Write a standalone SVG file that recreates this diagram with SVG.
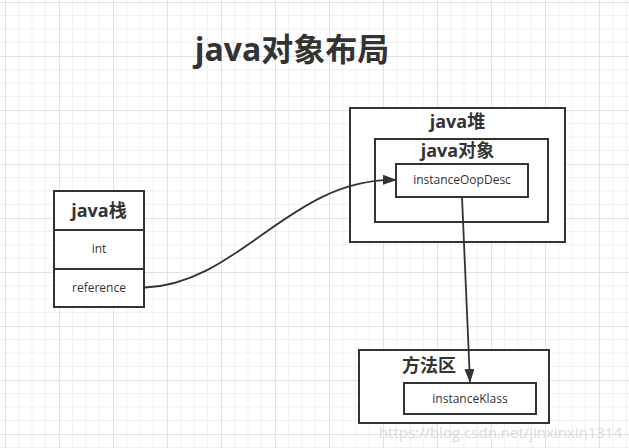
<svg xmlns="http://www.w3.org/2000/svg" width="629" height="448" viewBox="0 0 629 448">
<defs>
<pattern id="grid" x="5" y="2" width="54" height="54" patternUnits="userSpaceOnUse">
<path d="M13.5 0V54M27 0V54M40.5 0V54M0 13.5H54M0 27H54M0 40.5H54" stroke="#f1f1f1" stroke-width="1" fill="none"/>
<path d="M0.5 0V54M0 0.5H54" stroke="#e2e2e2" stroke-width="1" fill="none"/>
</pattern>
<marker id="arr" viewBox="0 0 14 10" refX="13" refY="5" markerWidth="14" markerHeight="10" markerUnits="userSpaceOnUse" orient="auto">
<path d="M0 0L14 5L0 10Z" fill="#333"/>
</marker>
<style>
.box{fill:#fff;stroke:#333;stroke-width:2}
.t{font-family:"Open Sans","Noto Sans CJK SC",sans-serif;fill:#333;text-anchor:middle}
.b{font-weight:bold;font-size:18px}
.s{font-size:12px}
.c{fill:none;stroke:#333;stroke-width:1.8}
</style>
</defs>
<rect width="629" height="448" fill="#fff"/>
<rect width="629" height="448" fill="url(#grid)"/>
<text class="t" x="292" y="61" style="font-size:32px;font-weight:bold">java对象布局</text>
<g id="heap">
<rect class="box" x="350" y="108" width="215" height="134"/>
<text class="t b" x="457.5" y="128">java堆</text>
</g>
<g id="object">
<rect class="box" x="375" y="139" width="173" height="83"/>
<text class="t b" x="457.5" y="157">java对象</text>
</g>
<g id="instanceOopDesc">
<rect class="box" x="396" y="164" width="132" height="33"/>
<text class="t s" x="462" y="184">instanceOopDesc</text>
</g>
<g id="stack">
<rect class="box" x="54" y="191" width="90" height="116"/>
<line x1="54" y1="230" x2="144" y2="230" stroke="#333" stroke-width="2"/>
<line x1="54" y1="269" x2="144" y2="269" stroke="#333" stroke-width="2"/>
<text class="t b" x="99" y="217">java栈</text>
<text class="t s" x="99" y="253">int</text>
<text class="t s" x="99" y="292">reference</text>
</g>
<g id="methodArea">
<rect class="box" x="359" y="350" width="190" height="73"/>
<text class="t b" x="429" y="372">方法区</text>
</g>
<g id="instanceKlass">
<rect class="box" x="404" y="383" width="132" height="31"/>
<text class="t s" x="470" y="403">instanceKlass</text>
</g>
<g id="connectors">
<path class="c" d="M145 287.5C240 284 290 178 396 180" marker-end="url(#arr)"/>
<path class="c" d="M462 197L470 382" marker-end="url(#arr)"/>
</g>
<text x="622" y="438" style="font-family:'Open Sans',sans-serif;font-size:15px;fill:#d8d8d8;text-anchor:end;opacity:0.9">https://blog.csdn.net/jinxinxin1314</text>
</svg>
